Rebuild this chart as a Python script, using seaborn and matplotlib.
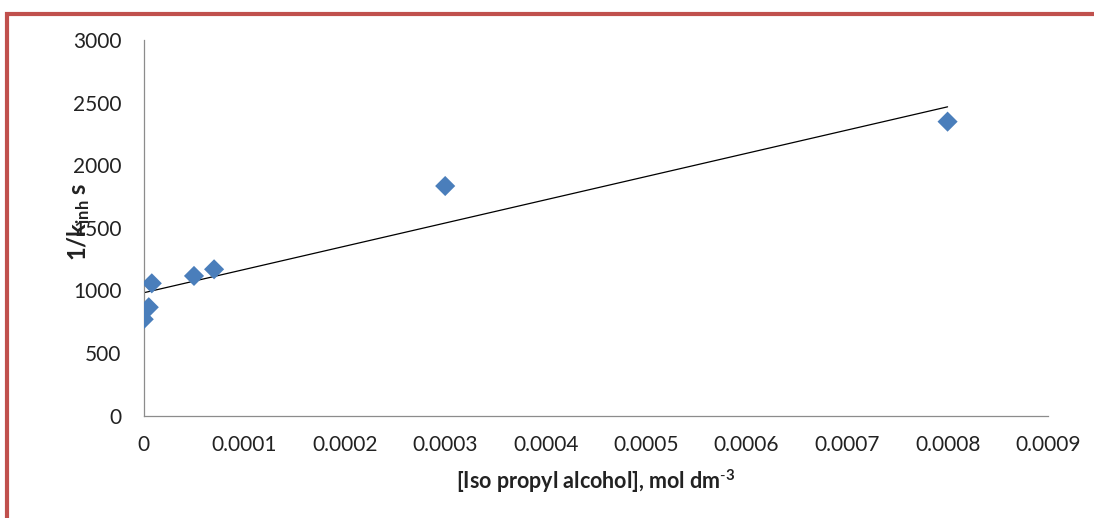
import matplotlib.pyplot as plt
import matplotlib.patches as patches
import numpy as np
import pandas as pd
import seaborn as sns

# [Iso propyl alcohol] (mol dm^-3) vs 1/k_inh (s)
conc = [0.0, 0.000005, 0.000008, 0.00005, 0.00007, 0.0003, 0.0008]
inv_k = [770, 866, 1057, 1116, 1169, 1834, 2348]
x_ticks = [0, 0.0001, 0.0002, 0.0003, 0.0004, 0.0005, 0.0006, 0.0007, 0.0008, 0.0009]
x_tick_labels = ["0", "0.0001", "0.0002", "0.0003", "0.0004", "0.0005",
                 "0.0006", "0.0007", "0.0008", "0.0009"]
y_ticks = [0, 500, 1000, 1500, 2000, 2500, 3000]

df = pd.DataFrame({"conc": conc, "inv_k": inv_k})

sns.set_theme(style="white")
plt.rcParams["font.family"] = ["Lato", "DejaVu Sans"]
plt.rcParams["mathtext.fontset"] = "custom"
plt.rcParams["mathtext.rm"] = "Lato"
plt.rcParams["mathtext.bf"] = "Lato:bold"
plt.rcParams["mathtext.it"] = "Lato:italic"

fig = plt.figure(figsize=(10.94, 5.18), dpi=100)
ax = fig.add_axes([0.1314, 0.1975, 0.958 - 0.1314, 0.9228 - 0.1975])

sns.regplot(
    data=df, x="conc", y="inv_k", ax=ax, ci=None, marker="D",
    scatter_kws={"s": 105, "color": "#4A7EBB", "edgecolor": "none",
                 "alpha": 1, "zorder": 3},
    line_kws={"color": "black", "lw": 0.9, "zorder": 2},
)

ax.set_xlim(0, 0.0009)
ax.set_ylim(0, 3000)
ax.set_xticks(x_ticks)
ax.set_xticklabels(x_tick_labels)
ax.set_yticks(y_ticks)
ax.tick_params(axis="both", length=0, labelsize=15, colors="#222222")
ax.tick_params(axis="y", pad=16)
ax.tick_params(axis="x", pad=14)

for side in ["top", "right"]:
    ax.spines[side].set_visible(False)
for side in ["left", "bottom"]:
    ax.spines[side].set_color("#8c8c8c")
    ax.spines[side].set_linewidth(0.9)

ax.set_xlabel(r"[Iso propyl alcohol], mol dm$^{\mathbf{\text{-}3}}$",
              fontsize=15.5, fontweight="bold", labelpad=9, color="#222222")
ax.set_ylabel("")
fig.text(79 / 1094, 1 - 222 / 518, r"1/k$_{\mathbf{inh}}$ s", rotation=90,
         ha="center", va="center", fontsize=17, fontweight="bold",
         color="#222222")

# red frame around the chart, cut off at right and bottom
frame = patches.Rectangle((7 / 1094, -0.1), 1.2, (1 - 14 / 518) + 0.1,
                          fill=False, edgecolor="#C0504D", lw=3,
                          transform=fig.transFigure, clip_on=False)
fig.add_artist(frame)

fig.savefig("out.png", dpi=100)
